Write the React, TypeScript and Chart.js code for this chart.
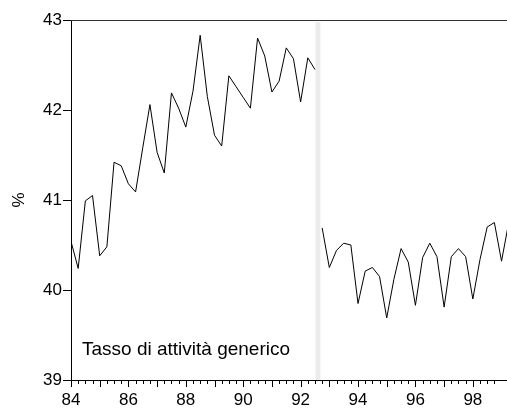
import React, { useEffect, useRef } from 'react';
import { Chart, registerables } from 'chart.js';

Chart.register(...registerables);

// ---- data ----
const SERIES_LABEL = 'Tasso di attività generico';
const Y_TITLE = '%';
const Y_MIN = 39;
const Y_MAX = 43;
const X_MIN = 84;
const X_MAX = 99.19;
const X_LABEL_YEARS = [84, 86, 88, 90, 92, 94, 96, 98];
const BREAK_BAND = [92.52, 92.69];

// quarterly, 1984Q1 .. 1992Q3
const SEG1_START = 84;
const SEG1 = [
  40.54, 40.24, 40.99, 41.05, 40.38, 40.48, 41.42, 41.38, 41.18, 41.09,
  41.58, 42.06, 41.53, 41.30, 42.19, 42.02, 41.81, 42.21, 42.83, 42.15,
  41.72, 41.60, 42.38, 42.26, 42.14, 42.02, 42.80, 42.60, 42.20, 42.32,
  42.69, 42.57, 42.09, 42.58, 42.45,
];
// quarterly, 1992Q4 .. 1999Q2
const SEG2_START = 92.75;
const SEG2 = [
  40.69, 40.25, 40.44, 40.52, 40.50, 39.85, 40.21, 40.25, 40.15, 39.69,
  40.12, 40.46, 40.31, 39.83, 40.36, 40.52, 40.37, 39.81, 40.37, 40.46,
  40.37, 39.90, 40.34, 40.70, 40.75, 40.32, 40.75,
];

const FONT = '"Liberation Sans", Arial, sans-serif';
const FONT_SIZE = 17;
const LABEL_FONT_SIZE = 19;

const toPoints = (start: number, vals: number[]) =>
  vals.map((v, i) => ({ x: start + i * 0.25, y: v }));

const decor = {
  id: 'decor',
  beforeDatasetsDraw(chart: any) {
    const { ctx, chartArea, scales } = chart;
    const x = scales.x;
    const x0 = x.getPixelForValue(BREAK_BAND[0]);
    const x1 = x.getPixelForValue(BREAK_BAND[1]);
    ctx.save();
    ctx.fillStyle = '#ececec';
    ctx.fillRect(x0, chartArea.top + 2, x1 - x0, chartArea.bottom - chartArea.top - 2);
    ctx.restore();
  },
  afterDraw(chart: any) {
    const { ctx, chartArea, scales } = chart;
    const x = scales.x;
    ctx.save();
    // top frame line
    ctx.strokeStyle = '#333';
    ctx.lineWidth = 1;
    ctx.beginPath();
    ctx.moveTo(chartArea.left, chartArea.top + 0.5);
    ctx.lineTo(chartArea.right, chartArea.top + 0.5);
    ctx.stroke();
    // x tick marks (years long, quarters short)
    ctx.strokeStyle = '#000';
    x.ticks.forEach((t: any) => {
      const v = t.value;
      const q = v * 4;
      if (Math.abs(q - Math.round(q)) > 1e-6) return;
      const major = Math.abs(v - Math.round(v)) < 1e-6;
      const px = Math.round(x.getPixelForValue(v)) + 0.5;
      ctx.beginPath();
      ctx.moveTo(px, chartArea.bottom);
      ctx.lineTo(px, chartArea.bottom + (major ? 7 : 4));
      ctx.stroke();
    });
    // series label
    ctx.fillStyle = '#000';
    ctx.font = `${LABEL_FONT_SIZE}px ${FONT}`;
    ctx.textAlign = 'left';
    ctx.textBaseline = 'alphabetic';
    ctx.fillText(SERIES_LABEL, chartArea.left + 11, chartArea.bottom - 25);
    ctx.restore();
  },
};

export default function App() {
  const ref = useRef<HTMLCanvasElement>(null);
  useEffect(() => {
    if (!ref.current) return;
    const chart = new Chart(ref.current, {
      type: 'line',
      data: {
        datasets: [
          {
            data: toPoints(SEG1_START, SEG1),
            borderColor: '#000',
            borderWidth: 1,
            pointRadius: 0,
            tension: 0,
          },
          {
            data: toPoints(SEG2_START, SEG2),
            borderColor: '#000',
            borderWidth: 1,
            pointRadius: 0,
            tension: 0,
          },
        ],
      },
      options: {
        animation: false,
        responsive: false,
        layout: { padding: { top: 20, right: 0, bottom: 0, left: 0 } },
        plugins: { legend: { display: false }, tooltip: { enabled: false } },
        scales: {
          x: {
            type: 'linear',
            min: X_MIN,
            max: X_MAX,
            afterFit: (s: any) => {
              s.height = 30;
              s.paddingLeft = 0;
              s.paddingRight = 0;
            },
            border: { display: true, color: '#000', width: 1 },
            grid: { display: true, drawOnChartArea: false, drawTicks: true, tickLength: 7, tickColor: 'rgba(0,0,0,0)' },
            ticks: {
              stepSize: 0.25,
              autoSkip: false,
              maxRotation: 0,
              minRotation: 0,
              padding: 3,
              color: '#000',
              font: { family: FONT, size: FONT_SIZE },
              callback: (v: any) => {
                const n = Number(v);
                const hit = X_LABEL_YEARS.find((yr) => Math.abs(yr - n) < 1e-6);
                return hit !== undefined ? String(hit) : '';
              },
            },
          },
          y: {
            min: Y_MIN,
            max: Y_MAX,
            afterFit: (s: any) => { s.width = 71; },
            border: { display: true, color: '#000', width: 1 },
            grid: { display: true, drawOnChartArea: false, drawTicks: true, tickLength: 8, tickColor: '#000' },
            ticks: {
              stepSize: 1,
              padding: 1,
              color: '#000',
              font: { family: FONT, size: FONT_SIZE },
            },
            title: {
              display: true,
              text: Y_TITLE,
              color: '#000',
              padding: { top: 9, bottom: 0 },
              font: { family: FONT, size: FONT_SIZE },
            },
          },
        },
      },
      plugins: [decor],
    });
    return () => chart.destroy();
  }, []);
  return (
    <div style={{ position: 'absolute', left: 0, top: 0, width: 507, height: 410 }}>
      <canvas ref={ref} width={507} height={410} />
    </div>
  );
}
